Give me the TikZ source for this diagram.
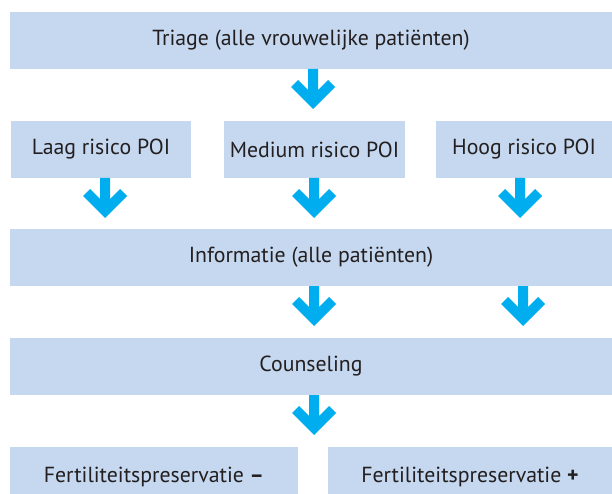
\documentclass[tikz,border=0pt]{standalone}
\usepackage{fontspec}
\setmainfont{PT Sans}
\definecolor{boxfill}{HTML}{C5D8EF}
\definecolor{arrowcol}{HTML}{00AEEF}
\definecolor{txt}{HTML}{231F20}
\begin{document}
\begin{tikzpicture}[x=1pt,y=-1pt,
  box/.style={fill=boxfill,draw=none,inner sep=0pt,minimum height=57pt,text=txt,font=\fontsize{21.8}{24}\selectfont},
  downarrow/.pic={\fill[arrowcol] (-5,0) -- (5,0) -- (5,21) -- (15,11) -- (22,18) -- (0,40) -- (-22,18) -- (-15,11) -- (-5,21) -- cycle;}]
\useasboundingbox (0,0) rectangle (612,494);
\clip (0,0) rectangle (612,494);
\node[box,minimum width=602pt] (triage) at (311,40.5) {Triage (alle vrouwelijke patiënten)};
\node[box,minimum width=180pt] (laag) at (101,149.5) {Laag risico POI};
\node[box,minimum width=181pt] (medium) at (314.5,149.5) {Medium risico POI};
\node[box,minimum width=176pt] (hoog) at (524,149.5) {Hoog risico POI};
\node[box,minimum width=602pt] (info) at (311,257.5) {Informatie (alle patiënten)};
\node[box,minimum width=602pt] (couns) at (311,366.5) {Counseling};
\node[box,minimum width=288pt,minimum height=60pt] (fmin) at (154,477) {Fertiliteitspreservatie \textbf{–}};
\node[box,minimum width=284pt,minimum height=60pt] (fplus) at (470,477) {Fertiliteitspreservatie \textbf{+}};
\pic at (313,69) {downarrow};
\pic at (105,178) {downarrow};
\pic at (314,178) {downarrow};
\pic at (520,178) {downarrow};
\pic at (314,286) {downarrow};
\pic at (523,286) {downarrow};
\pic at (314,395) {downarrow};
\end{tikzpicture}
\end{document}
